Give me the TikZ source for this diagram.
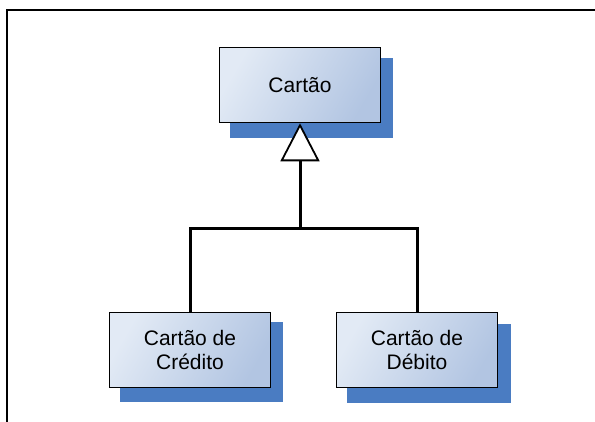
\documentclass[tikz,border=0pt]{standalone}
\usepackage{fontspec}
\setmainfont{Liberation Sans}
\usepackage{tikz}
\usetikzlibrary{arrows.meta,calc}

\definecolor{shadowblue}{RGB}{74,124,194}
\definecolor{boxlight}{RGB}{226,234,245}
\definecolor{boxdark}{RGB}{178,197,226}

\tikzset{
  classbox/.style={draw=black, line width=1.6pt, minimum width=161pt, minimum height=75pt,
    align=center, left color=boxlight, right color=boxdark, shading angle=60,
    font=\fontsize{21}{24}\selectfont},
  shadowbox/.style={fill=shadowblue},
  inherit/.style={line width=3pt, -{Triangle[width=39pt,length=38pt,fill=white,line width=1.8pt]}}
}

\begin{document}
\begin{tikzpicture}[x=1pt,y=-1pt]
      \useasboundingbox (0,0) rectangle (595,422);
      \draw[line width=1.8pt] (7,422) |- (595,10);
      % shadows first
      \fill[shadowblue] (230,58) rectangle (393,138);
      \fill[shadowblue] (120,322) rectangle (283,402);
      \fill[shadowblue] (347,324) rectangle (511,403);
      \node[classbox] (cartao) at (300,85) {Cartão};
      \node[classbox] (credito) at (190,350) {Cartão de\\Crédito};
      \node[classbox] (debito) at (417,350) {Cartão de\\Débito};
      \coordinate (join) at (300,229);
      \draw[line width=3pt] (credito.north) |- (join) -| (debito.north);
      \draw[inherit] (join) -- (cartao.south);
    \end{tikzpicture}
\end{document}
